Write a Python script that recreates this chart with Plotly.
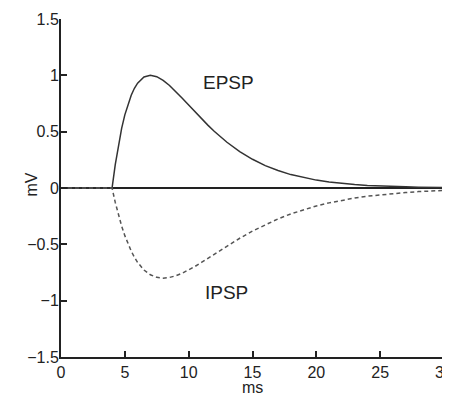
import plotly.graph_objects as go

t_ms = [0, 4, 4.25, 4.5, 4.75, 5, 5.25, 5.5, 5.75, 6, 6.5, 7, 7.5, 8, 8.5, 9, 9.5, 10,
        10.5, 11, 11.5, 12, 13, 14, 15, 16, 17, 18, 19, 20, 21, 22, 23, 24, 25, 26,
        27, 28, 29, 30]
epsp_mv = [0, 0, 0.208, 0.384, 0.529, 0.649, 0.747, 0.824, 0.885, 0.930, 0.985, 1.0,
           0.988, 0.955, 0.910, 0.856, 0.797, 0.736, 0.675, 0.615, 0.558, 0.504,
           0.406, 0.323, 0.255, 0.199, 0.155, 0.119, 0.092, 0.070, 0.053, 0.040,
           0.031, 0.023, 0.017, 0.013, 0.010, 0.007, 0.005, 0.004]
ipsp_mv = [0, 0, -0.128, -0.240, -0.338, -0.423, -0.497, -0.560, -0.614, -0.660,
           -0.728, -0.770, -0.793, -0.800, -0.794, -0.779, -0.756, -0.728, -0.696,
           -0.661, -0.625, -0.589, -0.516, -0.446, -0.382, -0.325, -0.274, -0.230,
           -0.192, -0.159, -0.132, -0.109, -0.089, -0.073, -0.060, -0.049, -0.040,
           -0.032, -0.026, -0.021]
baseline_t = [0, 30]
baseline_v = [0, 0]

x_ticks = [0, 5, 10, 15, 20, 25, 30]
y_ticks = [-1.5, -1, -0.5, 0, 0.5, 1, 1.5]
y_tick_text = ["\u22121.5", "\u22121", "\u22120.5", "0", "0.5", "1", "1.5"]

font_family = "Liberation Sans, Arial, sans-serif"
ink = "#222222"

fig = go.Figure()
fig.add_trace(go.Scatter(x=baseline_t, y=baseline_v, mode="lines",
                         line=dict(color=ink, width=2), hoverinfo="skip"))
fig.add_trace(go.Scatter(x=t_ms, y=epsp_mv, mode="lines",
                         line=dict(color="#333333", width=1.5)))
fig.add_trace(go.Scatter(x=t_ms, y=ipsp_mv, mode="lines",
                         line=dict(color="#555555", width=1.5, dash="4px,3px")))

fig.add_annotation(x=13.1, y=0.94, text="EPSP", showarrow=False,
                   font=dict(size=19, color=ink, family=font_family))
fig.add_annotation(x=13.0, y=-0.93, text="IPSP", showarrow=False,
                   font=dict(size=19, color=ink, family=font_family))
fig.add_annotation(x=15, xref="x", y=-0.089, yref="paper", text="ms",
                   xanchor="center", yanchor="middle",
                   showarrow=False, font=dict(size=16, color=ink, family=font_family))
fig.add_annotation(x=-0.076, xref="paper", y=0.03, yref="y", text="mV", textangle=-90,
                   xanchor="center", yanchor="middle",
                   showarrow=False, font=dict(size=16, color=ink, family=font_family))

fig.update_layout(
    width=450, height=394,
    margin=dict(l=53, r=14, t=11, b=45),
    paper_bgcolor="white", plot_bgcolor="white",
    showlegend=False,
    font=dict(family=font_family, size=16, color=ink),
)
fig.update_xaxes(range=[0, 30], tickvals=x_ticks, ticks="inside", ticklen=6,
                 tickwidth=1.5, tickcolor=ink, automargin=False,
                 ticklabeloverflow="allow",
                 showline=True, linecolor=ink, linewidth=2,
                 showgrid=False, zeroline=False)
fig.update_yaxes(range=[-1.5, 1.5], tickvals=y_ticks, ticktext=y_tick_text,
                 ticks="inside", ticklen=6, tickwidth=1.5, tickcolor=ink,
                 automargin=False, ticklabeloverflow="allow", ticklabelstandoff=-3,
                 showline=True, linecolor=ink, linewidth=2,
                 showgrid=False, zeroline=False)

fig.write_html("out.html")
